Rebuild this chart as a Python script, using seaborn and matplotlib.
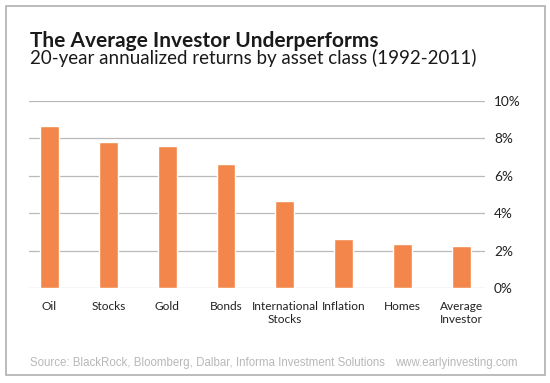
import matplotlib
matplotlib.use("Agg")
import matplotlib.pyplot as plt
from matplotlib.patches import Rectangle
from matplotlib.ticker import FuncFormatter
import seaborn as sns
import pandas as pd

categories = ["Oil", "Stocks", "Gold", "Bonds", "International\nStocks",
              "Inflation", "Homes", "Average\nInvestor"]
returns_pct = [8.65, 7.8, 7.57, 6.61, 4.65, 2.64, 2.36, 2.24]
y_ticks = [0, 2, 4, 6, 8, 10]

title = "The Average Investor Underperforms"
subtitle = "20-year annualized returns by asset class (1992-2011)"
source = "Source: BlackRock, Bloomberg, Dalbar, Informa Investment Solutions"
site = "www.earlyinvesting.com"

df = pd.DataFrame({"category": categories, "value": returns_pct})

sns.set_theme(style="white")
plt.rcParams["font.family"] = ["Lato", "DejaVu Sans"]

W, H = 550, 383
fig = plt.figure(figsize=(W / 100, H / 100), dpi=100)
fig.patch.set_facecolor("white")

ax = fig.add_axes([29 / W, 1 - 288.3 / H, (485 - 29) / W, (288.3 - 100.7) / H])
sns.barplot(data=df, x="category", y="value", color="#F3874B", width=0.32,
            saturation=1, ax=ax, zorder=3)

ax.set_xlim(-0.348, 7.40)
ax.set_ylim(0, 10)
ax.set_yticks(y_ticks)
ax.yaxis.set_major_formatter(FuncFormatter(lambda v, p: f"{v:.0f}%"))
ax.yaxis.tick_right()
ax.tick_params(axis="y", length=0, pad=6.5, labelsize=9.8, labelcolor="#222222")
ax.tick_params(axis="x", length=0, pad=9, labelsize=8.6, labelcolor="#222222")
ax.grid(axis="y", color="#b9b9b9", linewidth=0.9, zorder=0)
ax.set_axisbelow(True)
for s in ax.spines.values():
    s.set_visible(False)
ax.set_xlabel("")
ax.set_ylabel("")
for lbl in ax.get_xticklabels():
    lbl.set_linespacing(1.2)

fig.patches.append(Rectangle((6 / W, 1 - 375 / H), 539 / W, 369 / H,
                             transform=fig.transFigure, fill=False,
                             edgecolor="#b0b0b0", linewidth=1.2))

fig.text(30 / W, 1 - 46.7 / H, title, fontsize=15, fontweight="bold",
         color="#1a1a1a", va="baseline", ha="left")
fig.text(30 / W, 1 - 64 / H, subtitle, fontsize=13.5, color="#1a1a1a",
         va="baseline", ha="left")
fig.text(30 / W, 1 - 366 / H, source, fontsize=8.3, color="#b8b8b8",
         va="baseline", ha="left", family=["Liberation Sans", "DejaVu Sans"])
fig.text(518 / W, 1 - 366 / H, site, fontsize=8.3, color="#b8b8b8",
         va="baseline", ha="right", family=["Liberation Sans", "DejaVu Sans"])

fig.savefig("out.png", dpi=100, facecolor="white")
